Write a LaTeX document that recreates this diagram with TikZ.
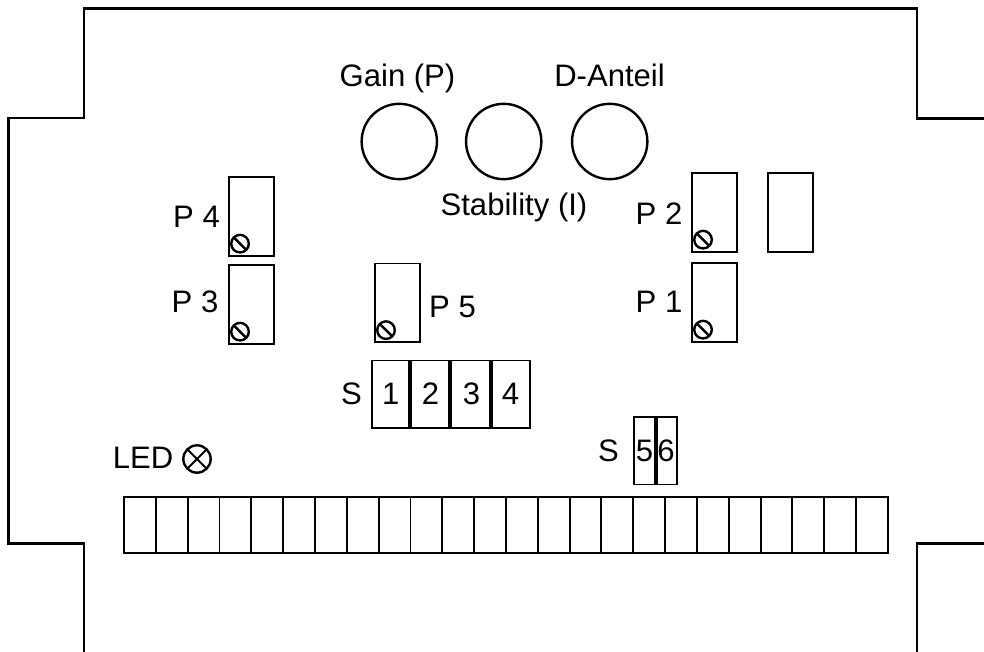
\documentclass[tikz,border=0pt]{standalone}
\usepackage{fontspec}
\setmainfont{Liberation Sans}
\tikzset{
  x=0.75pt,y=-0.75pt,
  ln/.style={draw=black,line width=2.1pt},
  kn/.style={draw=black,line width=1.8pt},
  bx/.style={draw=black,line width=1.4pt},
  dv/.style={draw=black,line width=2.4pt},
  lbl/.style={inner sep=0pt,anchor=base,font=\fontsize{23.3}{27}\selectfont,text=black},
  trim/.style={bx,minimum width=33.75pt,minimum height=59pt,inner sep=0pt,outer sep=0pt,anchor=north west},
  knob/.style={circle,kn,minimum size=56.5pt,inner sep=0pt},
  screw/.style={circle,kn,minimum size=13.2pt,inner sep=0pt,outer sep=0pt},
  cell/.style={bx,minimum width=23.85pt,minimum height=42pt,inner sep=0pt,outer sep=0pt,anchor=north west},
  swb/.style={bx,minimum height=50.6pt,inner sep=0pt,outer sep=0pt,anchor=north west},
}
\begin{document}
\begin{tikzpicture}
\useasboundingbox (0,0) rectangle (984,652);
\draw[ln,line join=miter] (84,652) -- (84,543.5) -- (8.5,543.5) -- (8.5,118) -- (84,118) -- (84,8.5) -- (917,8.5) -- (917,118.5) -- (984,118.5);
\draw[ln,line join=miter] (917,652) -- (917,543.5) -- (984,543.5);
\node[knob] (k1) at (399.3,141.5) {};
\node[knob] (k2) at (503.7,141.5) {};
\node[knob] (k3) at (609.7,141.5) {};
\node[lbl] (tg) at (397.5,86.5) {Gain (P)};
\node[lbl] (td) at (609.5,86.5) {D-Anteil};
\node[lbl] (ts) at (514,215.5) {Stability (I)};
\foreach \n/\x/\y in {p4/229/177,p3/229/265,p5/375/263.5,p2/692/173,p1/692/263,px/768/173}{
  \node[trim] (\n) at (\x,\y) {};
}
\foreach \n in {p4,p3,p5,p2,p1}{
  \node[screw] (s\n) at ([xshift=8.25pt,yshift=9pt]\n.south west) {};
  \draw[kn] (s\n.north west) -- (s\n.south east);
}
\node[lbl] (l4) at (196.5,227.5) {P 4};
\node[lbl] (l3) at (195,312.5) {P 3};
\node[lbl] (l5) at (452.5,317) {P 5};
\node[lbl] (l2) at (659,224) {P 2};
\node[lbl] (l1) at (659,312) {P 1};
\node[lbl] (ss) at (351.5,404) {S};
\foreach \i/\x/\w in {1/372/28.5,2/410/30,3/450/30.75,4/491/29.25}{
  \node[swb,minimum width=\w pt] (sw\i) at (\x,360.5) {};
}
\draw[dv] (sw1.north east) -- (sw1.south east);
\draw[dv] (sw2.north east) -- (sw2.south east);
\draw[dv] (sw3.north east) -- (sw3.south east);
\node[lbl] (d1) at (390.7,404) {1};
\node[lbl] (d2) at (430.5,404) {2};
\node[lbl] (d3) at (471.5,404) {3};
\node[lbl] (d4) at (510.5,404) {4};
\node[lbl] (ss2) at (608.5,461.5) {S};
\node[swb,minimum width=16.5pt] (sw5) at (634,417) {};
\node[swb,minimum width=15.75pt] (sw6) at (656,417) {};
\draw[dv] (sw5.north east) -- (sw5.south east);
\node[lbl] (d5) at (644.5,461.5) {5};
\node[lbl] (d6) at (666,461.5) {6};
\node[lbl] (led) at (143,468.5) {LED};
\node[circle,kn,minimum size=20.5pt,inner sep=0pt,outer sep=0pt] (ledc) at (197,459) {};
\draw[bx] (ledc.north west) -- (ledc.south east);
\draw[bx] (ledc.north east) -- (ledc.south west);
\foreach \i in {0,...,23}{
  \node[cell] (c\i) at ({124+\i*31.83},497) {};
}
\end{tikzpicture}
\end{document}
